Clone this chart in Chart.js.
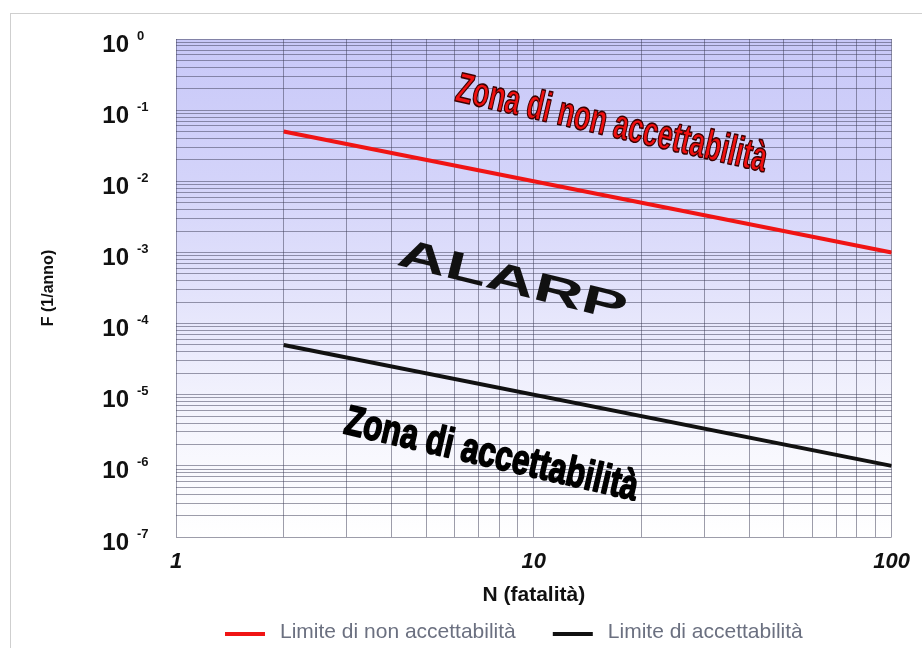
<!DOCTYPE html>
<html>
<head>
<meta charset="utf-8">
<script src="https://cdn.jsdelivr.net/npm/chart.js@4.4.1/dist/chart.umd.min.js"></script>
<style>
  body { margin: 0; background: #fff; }
  #wrap { position: relative; width: 922px; height: 648px; overflow: hidden; }
  #frame { position: absolute; left: 10px; top: 13px; width: 960px; height: 700px; border: 1px solid #cfcfcf; }
  canvas { position: absolute; left: 0; top: 0; }
</style>
</head>
<body>
<div id="wrap">
  <div id="frame"></div>
  <canvas id="chart" width="922" height="648"></canvas>
</div>
<script>
// Diagramma F-N
const nFatalita = [2, 100];
const limiteNonAccettabilita = [0.05, 0.001];
const limiteAccettabilita = [5e-5, 1e-6];
const serieNomi = ['Limite di non accettabilità', 'Limite di accettabilità'];
const serieColori = ['#f01414', '#111111'];

const xTickLabels = [1, 10, 100];
const yDecadi = [1, 1e-1, 1e-2, 1e-3, 1e-4, 1e-5, 1e-6, 1e-7];
const yEsponenti = ['0', '-1', '-2', '-3', '-4', '-5', '-6', '-7'];

// scritte delle zone, ancorate in coordinate dati (N, F)
const zone = [
  { text: 'Zona di non accettabilità', n: 16.5, f: 0.062, angle: 13, width: 318, font: 'bold 42px "Liberation Sans"', fill: '#f01010', stroke: '#3a0000', lw: 1.6 },
  { text: 'ALARP', n: 8.7, f: 3.8e-4, angle: 14, width: 235, font: 'bold 40px "Liberation Sans"', fill: '#111', stroke: null },
  { text: 'Zona di accettabilità', n: 7.6, f: 1.4e-6, angle: 13, width: 300, font: 'bold 42px "Liberation Sans"', fill: '#000', stroke: '#000', lw: 1.8 }
];

function logGrid(minExp, maxExp) {
  const vals = [];
  for (let e = minExp; e < maxExp; e++) {
    for (let k = 1; k <= 9; k++) vals.push(Number((k * Math.pow(10, e)).toPrecision(3)));
  }
  vals.push(Math.pow(10, maxExp));
  return vals;
}

const sfondo = {
  id: 'sfondo',
  beforeDraw(chart) {
    const { ctx, chartArea: a } = chart;
    const g = ctx.createLinearGradient(0, a.top, 0, a.bottom);
    g.addColorStop(0, 'rgb(200,200,248)');
    g.addColorStop(0.3, 'rgb(212,212,250)');
    g.addColorStop(0.75, 'rgb(244,244,253)');
    g.addColorStop(1, 'rgb(255,255,255)');
    ctx.save();
    ctx.fillStyle = g;
    ctx.fillRect(a.left, a.top, a.right - a.left, a.bottom - a.top);
    ctx.restore();
  }
};

const scritte = {
  id: 'scritte',
  afterDatasetsDraw(chart) {
    const { ctx, scales: { x, y } } = chart;
    ctx.save();
    zone.forEach(z => {
      const px = x.getPixelForValue(z.n);
      const py = y.getPixelForValue(z.f);
      ctx.save();
      ctx.translate(px, py);
      ctx.rotate(z.angle * Math.PI / 180);
      ctx.font = z.font;
      const w = ctx.measureText(z.text).width;
      ctx.scale(z.width / w, 1);
      ctx.textAlign = 'center';
      ctx.textBaseline = 'middle';
      ctx.lineJoin = 'round';
      ctx.fillStyle = z.fill;
      ctx.fillText(z.text, 0, 0);
      if (z.stroke) {
        ctx.lineWidth = z.lw;
        ctx.strokeStyle = z.stroke;
        ctx.strokeText(z.text, 0, 0);
      }
      ctx.restore();
    });

    // etichette asse y con esponente
    ctx.fillStyle = '#111';
    yDecadi.forEach((v, i) => {
      const py = y.getPixelForValue(v);
      ctx.font = 'bold 24px "Liberation Sans"';
      ctx.textAlign = 'right';
      ctx.textBaseline = 'middle';
      ctx.fillText('10', 129, py + 6);
      ctx.font = 'bold 13px "Liberation Sans"';
      ctx.textAlign = 'left';
      ctx.fillText(yEsponenti[i], 137, py - 3);
    });

    // legenda
    let lx = 225;
    const ly = 634;
    ctx.font = '21px "Liberation Sans"';
    ctx.textAlign = 'left';
    ctx.textBaseline = 'middle';
    chart.data.datasets.forEach(ds => {
      ctx.strokeStyle = ds.borderColor;
      ctx.lineWidth = 4;
      ctx.beginPath();
      ctx.moveTo(lx, ly);
      ctx.lineTo(lx + 40, ly);
      ctx.stroke();
      ctx.fillStyle = '#6b7080';
      ctx.fillText(ds.label, lx + 55, ly - 2);
      lx += 55 + ctx.measureText(ds.label).width + 37;
    });
    ctx.restore();
  }
};

const ctx = document.getElementById('chart').getContext('2d');
const chart = new Chart(ctx, {
  type: 'line',
  data: {
    datasets: [
      {
        label: serieNomi[0],
        data: nFatalita.map((n, i) => ({ x: n, y: limiteNonAccettabilita[i] })),
        borderColor: serieColori[0],
        borderWidth: 4,
        pointRadius: 0
      },
      {
        label: serieNomi[1],
        data: nFatalita.map((n, i) => ({ x: n, y: limiteAccettabilita[i] })),
        borderColor: serieColori[1],
        borderWidth: 4,
        pointRadius: 0
      }
    ]
  },
  options: {
    responsive: false,
    animation: false,
    layout: { padding: { left: 35, right: 29, top: 39, bottom: 36 } },
    plugins: { legend: { display: false }, tooltip: { enabled: false } },
    scales: {
      x: {
        type: 'logarithmic',
        min: 1,
        max: 100,
        afterBuildTicks: s => { s.ticks = logGrid(0, 2).map(v => ({ value: v })); },
        afterFit: s => { s.height = 75; },
        grid: { color: 'rgba(60,60,85,0.5)', lineWidth: 1, drawTicks: false },
        border: { display: false },
        ticks: {
          autoSkip: false,
          maxRotation: 0,
          padding: 12,
          color: '#111',
          font: { family: 'Liberation Sans', size: 22, weight: 'bold', style: 'italic' },
          callback: v => xTickLabels.includes(v) ? String(v) : ''
        },
        title: {
          display: true,
          text: 'N (fatalità)',
          color: '#111',
          font: { family: 'Liberation Sans', size: 21, weight: 'bold' },
          padding: { top: 4, bottom: 4 }
        }
      },
      y: {
        type: 'logarithmic',
        min: 1e-7,
        max: 1,
        afterBuildTicks: s => { s.ticks = logGrid(-7, 0).map(v => ({ value: v })); },
        afterFit: s => { s.width = 141; },
        grid: { color: 'rgba(60,60,85,0.5)', lineWidth: 1, drawTicks: false },
        border: { display: false },
        ticks: { display: false },
        title: {
          display: true,
          text: 'F (1/anno)',
          color: '#111',
          font: { family: 'Liberation Sans', size: 16, weight: 'bold' },
          padding: { top: 4, bottom: 4 }
        }
      }
    }
  },
  plugins: [sfondo, scritte]
});
</script>
</body>
</html>
